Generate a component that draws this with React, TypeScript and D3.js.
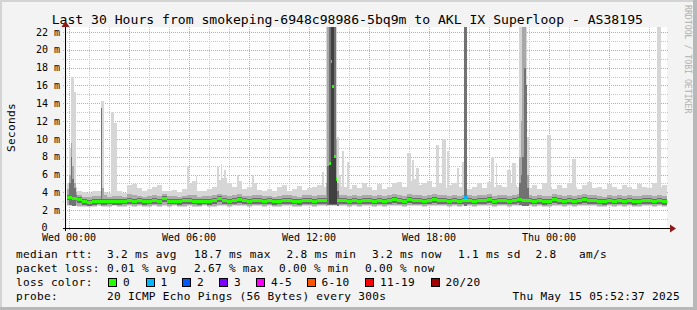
import React from "react";
import * as d3 from "d3";

const W = 697;
const H = 310;

// ---- axis / labels ----
const yTickValues = [0, 2, 4, 6, 8, 10, 12, 14, 16, 18, 20, 22];
const yMinorValues = [1, 3, 5, 7, 9, 11, 13, 15, 17, 19, 21];
const xLabelHours = [0, 6, 12, 18, 24];
const xLabels = ["Wed 00:00", "Wed 06:00", "Wed 12:00", "Wed 18:00", "Thu 00:00"];
const hourGrid = [0,1,2,3,4,5,6,7,8,9,10,11,12,13,14,15,16,17,18,19,20,21,22,23,24,25,26,27,28,29];
const majorHourGrid = [0, 3, 6, 9, 12, 15, 18, 21, 24, 27];

const title = "Last 30 Hours from smokeping-6948c98986-5bq9m to AKL IX Superloop - AS38195";

// ---- base series: 15-minute buckets starting Tue 23:52:30 (hours rel. Wed 00:00) ----
const bucketStartHour = -0.125;
const bucketHours = 0.25;
const medianMs = [
  3.45, 3.35, 3.2, 2.95, 2.85, 2.95, 3.0, 2.95, 3.0, 2.95,
  2.95, 3.0, 3.05, 3.0, 3.1, 2.95, 3.0, 3.05, 3.0, 3.3,
  3.0, 3.0, 2.95, 3.05, 3.1, 3.0, 2.95, 3.0, 2.95, 3.05,
  3.3, 3.1, 3.0, 3.1, 3.15, 3.05, 3.0, 3.05, 3.1, 3.0,
  3.05, 2.95, 3.0, 3.1, 3.05, 3.0, 2.95, 3.1, 3.05, 3.0,
  3.05, 3.1, null, null, 3.1, 3.05, 3.0, 3.1, 3.0, 3.05,
  3.1, 3.0, 3.05, 3.0, 3.1, 3.15, 3.05, 3.0, 3.2, 3.1,
  3.05, 3.0, 3.1, 3.15, 3.05, 3.1, 3.0, 3.05, 3.0, 3.1,
  3.05, 3.0, 3.1, 3.05, 3.15, 3.0, 3.1, 3.05, 3.0, 3.1,
  3.15, 3.05, 3.1, 3.0, 3.05, 2.95, 3.0, 3.15, 3.1, 3.0,
  3.05, 3.0, 3.1, 3.15, 3.05, 3.1, 3.0, 2.95, 3.05, 3.0,
  3.05, 3.0, 3.1, 2.95, 3.0, 3.05, 3.1, 3.0, 3.05, 2.95,
];
const lowMs = [
  2.5, 2.45, 2.4, 2.4, 2.35, 2.4, 2.45, 2.4, 2.4, 2.45,
  2.4, 2.4, 2.45, 2.4, 2.45, 2.4, 2.4, 2.45, 2.4, 2.45,
  2.4, 2.45, 2.4, 2.4, 2.45, 2.4, 2.4, 2.45, 2.4, 2.4,
  2.45, 2.45, 2.4, 2.45, 2.5, 2.45, 2.4, 2.45, 2.45, 2.4,
  2.45, 2.4, 2.4, 2.45, 2.45, 2.4, 2.4, 2.45, 2.45, 2.4,
  2.45, 2.45, 2.5, 2.5, 2.45, 2.45, 2.4, 2.45, 2.4, 2.45,
  2.45, 2.4, 2.45, 2.4, 2.45, 2.5, 2.45, 2.4, 2.5, 2.45,
  2.45, 2.4, 2.45, 2.5, 2.45, 2.45, 2.4, 2.45, 2.4, 2.45,
  2.45, 2.4, 2.45, 2.45, 2.5, 2.4, 2.45, 2.45, 2.4, 2.45,
  2.5, 2.45, 2.45, 2.4, 2.45, 2.4, 2.4, 2.5, 2.45, 2.4,
  2.45, 2.4, 2.45, 2.5, 2.45, 2.45, 2.4, 2.4, 2.45, 2.4,
  2.45, 2.4, 2.45, 2.4, 2.4, 2.45, 2.45, 2.4, 2.45, 2.4,
];
const upperMs = [
  4.4, 4.0, 3.7, 3.5, 3.5, 3.6, 3.6, 3.7, 3.5, 3.6,
  3.6, 3.5, 3.8, 3.7, 3.6, 3.5, 3.6, 3.7, 3.6, 3.8,
  3.6, 3.6, 3.5, 3.6, 3.7, 3.7, 3.5, 3.6, 3.6, 3.7,
  3.8, 3.7, 3.6, 3.7, 3.8, 3.6, 3.6, 3.7, 3.7, 3.6,
  3.6, 3.5, 3.6, 3.7, 3.7, 3.6, 3.5, 3.7, 3.7, 3.6,
  3.7, 3.7, 3.8, 3.8, 3.7, 3.7, 3.6, 3.7, 3.6, 3.7,
  3.7, 3.6, 3.7, 3.6, 3.7, 3.8, 3.7, 3.6, 3.8, 3.7,
  3.7, 3.6, 3.7, 3.8, 3.7, 3.7, 3.6, 3.7, 3.6, 3.7,
  3.7, 3.6, 3.7, 3.7, 3.8, 3.6, 3.7, 3.7, 3.6, 3.7,
  3.8, 3.7, 3.7, 3.6, 3.7, 3.6, 3.6, 3.8, 3.7, 3.6,
  3.7, 3.6, 3.7, 3.8, 3.7, 3.7, 3.6, 3.5, 3.7, 3.6,
  3.7, 3.6, 3.7, 3.6, 3.6, 3.7, 3.7, 3.6, 3.7, 3.6,
];
const maxMs = [
  5.0, 4.6, 4.2, 4.0, 3.9, 4.1, 4.2, 4.0, 3.9, 4.0,
  4.1, 3.9, 4.8, 4.9, 4.5, 4.1, 4.4, 4.6, 4.8, 4.2,
  4.1, 4.3, 4.0, 4.4, 5.0, 5.3, 4.2, 4.1, 4.4, 4.6,
  5.4, 5.6, 5.0, 4.6, 5.3, 4.4, 4.6, 5.1, 4.3, 4.2,
  4.4, 4.1, 4.6, 4.8, 4.2, 4.4, 4.7, 4.3, 4.5, 4.6,
  4.8, 4.6, 4.6, 4.6, 4.7, 4.6, 4.4, 4.8, 4.5, 5.1,
  4.6, 4.3, 4.9, 4.4, 4.6, 5.0, 5.2, 4.6, 5.3, 5.5,
  4.8, 5.0, 5.3, 4.6, 5.1, 4.5, 4.8, 5.1, 4.6, 4.9,
  4.4, 4.6, 5.0, 4.5, 5.2, 4.6, 4.8, 4.6, 5.1, 4.8,
  4.6, 4.9, 4.5, 4.8, 4.4, 5.1, 4.6, 4.4, 4.8, 4.5,
  5.0, 4.6, 4.4, 4.8, 5.2, 4.5, 4.6, 4.4, 4.9, 4.6,
  4.4, 4.8, 4.6, 4.4, 4.9, 4.6, 4.5, 5.0, 4.6, 4.8,
];

// ---- 5-minute spike slots (slot k = k*5 min after Wed 00:00) ----
const slotHours = 1 / 12;
const spikeSlot = [0, 1, 2, 3, 19, 20, 25, 26, 27, 28, 71, 76, 89, 91, 93, 101, 110, 152, 154, 155, 156, 157, 158, 159, 160, 161, 162, 164, 167, 203, 204, 206, 208, 209, 220, 221, 224, 225, 227, 233, 236, 237, 238, 253, 254, 256, 263, 264, 266, 267, 270, 271, 272, 273, 274, 275, 287, 288, 302, 303, 353, 354];
const spikeMax = [9, 17, 17, 15.3, 14.2, 14.2, 13, 13, 11.8, 11.8, 7, 5.8, 6.8, 7.2, 6.5, 6, 6, 6.3, 23, 23, 23, 23, 23, 23, 23, 10.2, 6, 8.6, 7.4, 8.4, 8.4, 7.6, 6.7, 6.7, 9.3, 9.3, 10, 10, 8.6, 6.7, 7.4, 23, 23, 8, 8, 7.3, 6.5, 6.5, 7.3, 7.3, 23, 23, 23, 23, 23, 10.2, 10.4, 10.4, 7.7, 7.7, 23, 23];
const spikeMid = [6, 9.5, 7, 5, 13.5, 4.5, 0, 0, 0, 0, 0, 0, 0, 0, 0, 0, 0, 0, 5, 23, 23, 23, 23, 23, 10, 5, 0, 0, 0, 0, 0, 0, 0, 0, 0, 0, 0, 0, 0, 0, 0, 23, 23, 0, 0, 0, 0, 0, 0, 0, 8, 12, 23, 23, 16, 6, 0, 0, 0, 0, 0, 0];
const spikeDark = [5, 8, 5.5, 4.5, 13.5, 0, 0, 0, 0, 0, 0, 0, 0, 0, 0, 0, 0, 0, 0, 7, 23, 23, 23, 23, 5.5, 4.2, 0, 0, 0, 0, 0, 0, 0, 0, 0, 0, 0, 0, 0, 0, 0, 23, 23, 0, 0, 0, 0, 0, 0, 0, 5, 6, 8, 18, 16, 4.5, 0, 0, 0, 0, 0, 0];
const spikeCore = [0, 0, 0, 0, 0, 0, 0, 0, 0, 0, 0, 0, 0, 0, 0, 0, 0, 0, 0, 0, 7.2, 23, 23, 8, 5.5, 0, 0, 0, 0, 0, 0, 0, 0, 0, 0, 0, 0, 0, 0, 0, 0, 0, 0, 0, 0, 0, 0, 0, 0, 0, 0, 0, 0, 0, 0, 0, 0, 0, 0, 0, 0, 0];
const spikeMedian = [0, 0, 0, 0, 0, 0, 0, 0, 0, 0, 0, 0, 0, 0, 0, 0, 0, 0, 0, 0, 7.2, 18.7, 15.9, 8, 5.5, 0, 0, 0, 0, 0, 0, 0, 0, 0, 0, 0, 0, 0, 0, 0, 0, 0, 0, 0, 0, 0, 0, 0, 0, 0, 0, 0, 0, 0, 0, 0, 0, 0, 0, 0, 0, 0];

// packet loss events (slot, lost pings, median)
const lossSlot = [237, 238];
const lossPings = [1, 1];
const lossMedian = [3.4, 3.4];

// ---- legend ----
const rttTexts = ["median rtt:", "3.2 ms avg", "18.7 ms max", "2.8 ms min", "3.2 ms now", "1.1 ms sd", "2.8", "am/s"];
const lossTexts = ["packet loss:", "0.01 % avg", "2.67 % max", "0.00 % min", "0.00 % now"];
const lossColorLabels = ["0", "1", "2", "3", "4-5", "6-10", "11-19", "20/20"];
const lossColors = ["#26ff00", "#00b8ff", "#0059ff", "#7e00ff", "#ff00ff", "#ff5500", "#ff0000", "#a00000"];
const probeText = "20 ICMP Echo Pings (56 Bytes) every 300s";
const dateText = "Thu May 15 05:52:37 2025";

const MONO = "'DejaVu Sans Mono', monospace";

export default function App() {
  const plotLeft = 67, plotRight = 667, plotTop = 27, plotBottom = 228;
  const x = d3.scaleLinear().domain([-0.1, 29.9]).range([plotLeft, plotRight]);
  const y = d3.scaleLinear().domain([0, 22]).range([plotBottom, 32]);

  const bx0 = (i: number) => x(bucketStartHour + i * bucketHours);
  const bx1 = (i: number) => x(bucketStartHour + (i + 1) * bucketHours);
  const sx0 = (k: number) => x(k * slotHours);
  const sx1 = (k: number) => x((k + 1) * slotHours);
  const bucketOf = (k: number) => Math.floor((k * slotHours - bucketStartHour) / bucketHours);

  const band = (key: string, x0: number, x1: number, v0: number, v1: number, fill: string) => (
    <rect key={key} x={x0} y={y(v1)} width={Math.max(0, x1 - x0)} height={Math.max(0, y(v0) - y(v1))} fill={fill} />
  );

  const light: React.ReactNode[] = [];
  const mid: React.ReactNode[] = [];
  const dark: React.ReactNode[] = [];
  const core: React.ReactNode[] = [];
  const med: React.ReactNode[] = [];

  medianMs.forEach((m, i) => {
    light.push(band("bl" + i, bx0(i), bx1(i), lowMs[i], maxMs[i], "#d6d6d6"));
    mid.push(band("bm" + i, bx0(i), bx1(i), lowMs[i] + 0.1, upperMs[i], "#ababab"));
    if (m !== null) {
      dark.push(band("bd" + i, bx0(i), bx1(i), m - 0.35, m + 0.3, "#6e6e6e"));
      med.push(<rect key={"md" + i} x={bx0(i)} y={y(m) - 1.5} width={bx1(i) - bx0(i)} height={3} fill={lossColors[0]} />);
    }
  });
  spikeSlot.forEach((k, j) => {
    const lo = lowMs[Math.max(0, bucketOf(k))] + 0.05;
    light.push(band("sl" + j, sx0(k), sx1(k), lo, spikeMax[j], "#d6d6d6"));
    if (spikeMid[j] > 0) mid.push(band("sm" + j, sx0(k), sx1(k), lo, spikeMid[j], "#a8a8a8"));
    if (spikeDark[j] > 0) dark.push(band("sd" + j, sx0(k), sx1(k), lo, spikeDark[j], "#727272"));
    if (spikeCore[j] > 0) core.push(band("sc" + j, sx0(k), sx1(k), lo + 0.2, spikeCore[j], "#404040"));
    if (spikeMedian[j] > 0)
      med.push(<rect key={"sq" + j} x={sx0(k)} y={y(spikeMedian[j]) - 1.5} width={sx1(k) - sx0(k)} height={3} fill={lossColors[0]} />);
  });
  lossSlot.forEach((k, j) => {
    med.push(<rect key={"lq" + j} x={sx0(k) - 0.5} y={y(lossMedian[j]) - 1.5} width={sx1(k) - sx0(k) + 1} height={3} fill={lossColors[lossPings[j]]} />);
  });

  const hy = (v: number) => Math.round(y(v)) + 0.5;
  const vx = (h: number) => Math.round(x(h)) + 0.5;

  const legendFont = { fontFamily: MONO, fontSize: 11.1, letterSpacing: 0.3, fill: "#000" } as const;
  const rttX = [16, 107, 194, 286.5, 372, 458, 535.5, 579];
  const lossX = [16, 107, 194, 279, 365];
  const boxX = [108, 145.5, 182, 219, 256, 306.5, 365, 430.5];

  return (
    <svg width={W} height={H} style={{ position: "absolute", left: 0, top: 0 }} xmlns="http://www.w3.org/2000/svg">
      <defs>
        <clipPath id="plotClip">
          <rect x={plotLeft} y={plotTop} width={plotRight - plotLeft} height={plotBottom - plotTop} />
        </clipPath>
      </defs>
      {/* canvas & frame */}
      <rect x={0} y={0} width={W} height={H} fill="#f3f3f3" />
      <rect x={0} y={0} width={W} height={2} fill="#d4d4d4" />
      <rect x={0} y={0} width={2} height={H} fill="#d4d4d4" />
      <rect x={W - 4} y={0} width={4} height={H} fill="#b8b8b8" />
      <rect x={0} y={H - 3} width={W} height={3} fill="#b8b8b8" />

      {/* title */}
      <text x={347.3} y={24} textAnchor="middle" style={{ fontFamily: MONO, fontSize: 13.1 }} fill="#000">{title}</text>

      {/* watermark */}
      <text transform="translate(684.5,5) rotate(90)" style={{ fontFamily: MONO, fontSize: 8.2 }} fill="#b0b0b0">RRDTOOL / TOBI OETIKER</text>

      {/* plot background */}
      <rect x={plotLeft} y={plotTop} width={plotRight - plotLeft} height={plotBottom - plotTop} fill="#ffffff" />

      {/* grid */}
      <g shapeRendering="crispEdges" strokeWidth={1} strokeDasharray="1,1">
        {yMinorValues.map((v) => (
          <line key={"hm" + v} x1={63} x2={669} y1={hy(v)} y2={hy(v)} stroke="#c8c8c8" />
        ))}
        {hourGrid.filter((h) => !majorHourGrid.includes(h)).map((h) => (
          <line key={"vm" + h} x1={vx(h)} x2={vx(h)} y1={plotTop} y2={231} stroke="#c8c8c8" />
        ))}
        {yTickValues.filter((v) => v > 0).map((v) => (
          <line key={"hM" + v} x1={63} x2={669} y1={hy(v)} y2={hy(v)} stroke="#ff9090" />
        ))}
        {majorHourGrid.map((h) => (
          <line key={"vM" + h} x1={vx(h)} x2={vx(h)} y1={plotTop} y2={231} stroke="#ff9090" />
        ))}
      </g>

      {/* smoke + median */}
      <g clipPath="url(#plotClip)" shapeRendering="crispEdges">
        {light}
        {mid}
        {dark}
        {core}
        {med}
      </g>

      {/* axes */}
      <g shapeRendering="crispEdges">
        <line x1={63} x2={670} y1={228.5} y2={228.5} stroke="#000" strokeWidth={1} />
        <line x1={65.5} x2={65.5} y1={231} y2={26} stroke="#000" strokeWidth={1} />
      </g>
      <path d="M670,224.5 L676,228.5 L670,232.5 Z" fill="#8b1a1a" />
      <path d="M61.5,27 L65.5,21 L69.5,27 Z" fill="#8b1a1a" />

      {/* y labels */}
      {yTickValues.map((v) => (
        <text key={"yl" + v} x={v === 0 ? 47.5 : 60} y={v === 0 ? 230.5 : y(v) + 3.6} textAnchor="end" style={{ fontFamily: MONO, fontSize: 10 }} fill="#000">
          {v === 0 ? "0" : `${v} m`}
        </text>
      ))}
      {/* x labels */}
      {xLabelHours.map((h, i) => (
        <text key={"xl" + h} x={x(h)} y={241} textAnchor="middle" style={{ fontFamily: MONO, fontSize: 10 }} fill="#000">
          {xLabels[i]}
        </text>
      ))}
      {/* y title */}
      <text transform="translate(14.5,127.5) rotate(-90)" textAnchor="middle" style={legendFont}>Seconds</text>

      {/* legend */}
      {rttTexts.map((t, i) => (
        <text key={"r" + i} x={rttX[i]} y={258} style={legendFont}>{t}</text>
      ))}
      {lossTexts.map((t, i) => (
        <text key={"l" + i} x={lossX[i]} y={272} style={legendFont}>{t}</text>
      ))}
      <text x={16} y={286} style={legendFont}>loss color:</text>
      {lossColorLabels.map((t, i) => (
        <g key={"lc" + i}>
          <rect x={boxX[i] + 0.5} y={278.5} width={8} height={8} fill={lossColors[i]} stroke="#000" strokeWidth={1} shapeRendering="crispEdges" />
          <text x={boxX[i] + 15} y={286} style={legendFont}>{t}</text>
        </g>
      ))}
      <text x={16} y={300} style={legendFont}>probe:</text>
      <text x={107} y={300} style={legendFont}>{probeText}</text>
      <text x={680} y={300} textAnchor="end" style={legendFont}>{dateText}</text>
    </svg>
  );
}
